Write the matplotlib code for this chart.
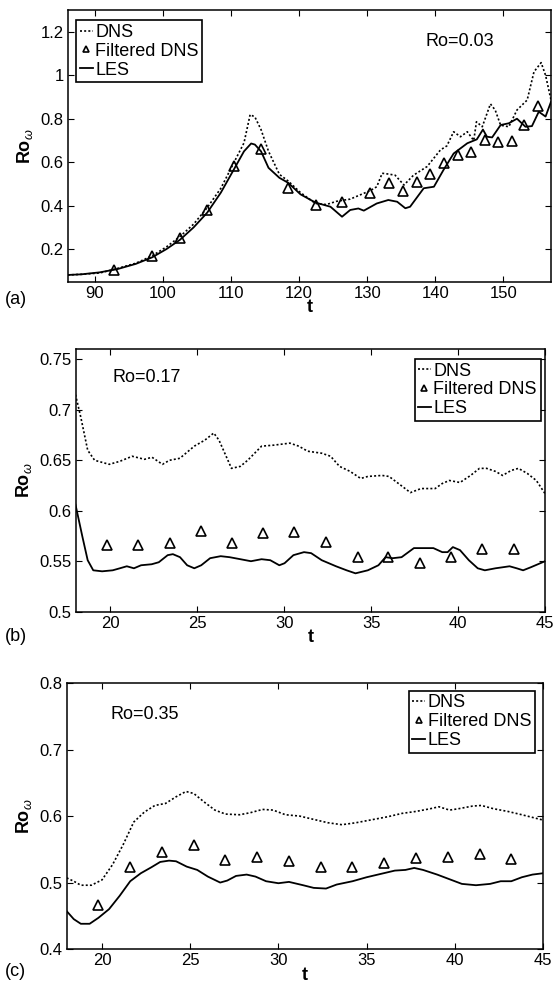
import matplotlib
matplotlib.use("Agg")
import matplotlib.pyplot as plt
import numpy as np
from matplotlib.ticker import FuncFormatter

plt.rcParams['font.family'] = ['Liberation Sans', 'DejaVu Sans']
plt.rcParams['mathtext.fontset'] = 'custom'
plt.rcParams['mathtext.rm'] = 'Liberation Sans'
plt.rcParams['mathtext.it'] = 'Liberation Sans:italic'

# ---- panel (a): Ro = 0.03 ----
a_dns_t = [86.0, 88.0, 90.7, 93.3, 96.0, 98.4, 100.5, 102.5, 104.5, 106.5, 108.5, 110.4,
           111.9, 112.8, 113.5, 114.4, 115.5, 117.1, 118.4, 120.2, 122.4, 124.0, 125.5,
           127.5, 129.0, 130.5, 131.4, 132.2, 133.2, 134.1, 135.4, 136.8, 138.8, 140.75,
           141.7, 142.7, 143.7, 144.7, 145.65, 146.05, 146.9, 148.1, 148.8, 149.6, 150.8,
           152.0, 153.5, 154.5, 155.55, 156.2, 157.0]
a_dns_v = [0.081, 0.084, 0.090, 0.111, 0.135, 0.169, 0.21, 0.258, 0.315, 0.391, 0.48, 0.597,
           0.689, 0.819, 0.808, 0.750, 0.650, 0.544, 0.513, 0.46, 0.41, 0.405, 0.42,
           0.43, 0.45, 0.47, 0.487, 0.549, 0.545, 0.54, 0.495, 0.54, 0.58, 0.656,
           0.675, 0.74, 0.717, 0.74, 0.70, 0.786, 0.763, 0.868, 0.84, 0.77, 0.763,
           0.84, 0.886, 1.016, 1.058, 1.0, 0.886]
a_les_t = [86.0, 88.0, 90.7, 93.3, 96.0, 98.4, 100.5, 102.5, 104.5, 106.5, 108.5, 110.4,
           111.9, 112.95, 113.5, 114.4, 115.5, 117.1, 118.4, 120.2, 122.4, 124.6, 126.3,
           127.5, 128.7, 129.5, 131.4, 133.1, 134.4, 135.6, 136.3, 138.3, 139.8, 141.2,
           142.7, 144.7, 146.1, 147.0, 147.6, 148.35, 149.6, 150.8, 152.0, 153.25, 154.2,
           155.2, 156.2, 157.0]
a_les_v = [0.081, 0.084, 0.093, 0.108, 0.132, 0.162, 0.20, 0.243, 0.30, 0.368, 0.46, 0.566,
           0.650, 0.686, 0.681, 0.650, 0.574, 0.528, 0.505, 0.452, 0.414, 0.395, 0.349,
           0.38, 0.387, 0.377, 0.41, 0.426, 0.418, 0.388, 0.395, 0.48, 0.487, 0.564,
           0.64, 0.687, 0.705, 0.75, 0.717, 0.714, 0.771, 0.779, 0.80, 0.763, 0.766,
           0.832, 0.81, 0.878]
a_fil_t = [92.84, 98.44, 102.48, 106.52, 110.36, 114.35, 118.39, 122.43, 126.32, 130.41,
           133.26, 135.23, 137.30, 139.27, 141.34, 143.31, 145.28, 147.25, 149.22, 151.29,
           153.0, 155.13]
a_fil_v = [0.105, 0.166, 0.249, 0.380, 0.582, 0.661, 0.481, 0.401, 0.417, 0.456,
           0.505, 0.466, 0.508, 0.545, 0.597, 0.631, 0.649, 0.701, 0.692, 0.698,
           0.77, 0.860]

# ---- panel (b): Ro = 0.17 ----
b_dns_t = [18.0, 18.3, 18.7, 19.1, 19.94, 20.55, 21.26, 21.97, 22.4, 23.0, 23.4, 24.0, 24.83,
           25.44, 25.95, 26.25, 26.97, 27.48, 27.9, 28.7, 29.4, 30.33, 30.84, 31.35, 32.16,
           32.67, 33.18, 33.79, 34.4, 34.81, 35.63, 36.03, 36.65, 37.26, 37.87, 38.68, 39.09,
           39.5, 40.11, 40.72, 41.23, 41.64, 42.15, 42.56, 43.06, 43.47, 43.98, 44.5, 45.0]
b_dns_v = [0.715, 0.693, 0.66, 0.65, 0.646, 0.649, 0.654, 0.651, 0.653, 0.646, 0.650, 0.652, 0.664,
           0.670, 0.677, 0.670, 0.642, 0.644, 0.650, 0.664, 0.665, 0.667, 0.664, 0.659, 0.657,
           0.654, 0.644, 0.639, 0.632, 0.634, 0.635, 0.634, 0.626, 0.618, 0.622, 0.622, 0.627,
           0.630, 0.628, 0.635, 0.642, 0.642, 0.639, 0.635, 0.640, 0.642, 0.637, 0.630, 0.617]
b_les_t = [18.0, 18.4, 18.7, 19.02, 19.53, 20.14, 20.55, 20.95, 21.36, 21.77, 22.38, 22.79, 23.3,
           23.6, 24.01, 24.42, 24.83, 25.23, 25.74, 26.35, 26.86, 27.48, 28.09, 28.7, 29.2,
           29.72, 30.02, 30.53, 31.14, 31.55, 32.16, 32.98, 33.59, 34.1, 34.81, 35.42, 35.83,
           36.24, 36.75, 37.46, 38.07, 38.58, 39.09, 39.4, 39.7, 40.11, 40.62, 41.13, 41.54,
           42.15, 42.56, 42.96, 43.37, 43.74, 44.18, 45.0]
b_les_v = [0.606, 0.574, 0.551, 0.541, 0.540, 0.541, 0.543, 0.545, 0.543, 0.546, 0.547, 0.549, 0.556,
           0.557, 0.554, 0.546, 0.543, 0.546, 0.553, 0.555, 0.554, 0.552, 0.550, 0.552, 0.551,
           0.546, 0.548, 0.556, 0.559, 0.558, 0.551, 0.545, 0.541, 0.538, 0.541, 0.546, 0.554,
           0.553, 0.554, 0.563, 0.563, 0.563, 0.559, 0.559, 0.564, 0.561, 0.551, 0.543, 0.541,
           0.543, 0.544, 0.545, 0.543, 0.541, 0.544, 0.550]
b_fil_t = [19.83, 21.61, 23.44, 25.19, 27.0, 28.8, 30.59, 32.41, 34.24, 35.99, 37.79, 39.58,
           41.37, 43.21]
b_fil_v = [0.566, 0.566, 0.568, 0.580, 0.568, 0.578, 0.579, 0.569, 0.554, 0.554, 0.548, 0.554,
           0.562, 0.562]

# ---- panel (c): Ro = 0.35 ----
c_dns_t = [18.0, 18.4, 18.8, 19.4, 20.0, 20.6, 21.2, 21.8, 22.4, 23.0, 23.6, 24.2, 24.76, 25.2,
           25.8, 26.4, 27.0, 27.8, 28.4, 29.1, 29.7, 30.4, 31.2, 32.0, 32.8, 33.6, 34.4, 35.2,
           36.2, 37.0, 37.8, 38.6, 39.1, 39.7, 40.2, 41.0, 41.5, 42.2, 43.0, 43.8, 45.0]
c_dns_v = [0.507, 0.502, 0.496, 0.496, 0.504, 0.527, 0.557, 0.591, 0.606, 0.616, 0.619, 0.629,
           0.637, 0.634, 0.621, 0.609, 0.603, 0.602, 0.605, 0.610, 0.609, 0.602, 0.600, 0.595,
           0.590, 0.587, 0.590, 0.594, 0.599, 0.604, 0.607, 0.611, 0.614, 0.609, 0.611, 0.615,
           0.616, 0.611, 0.607, 0.602, 0.594]
c_les_t = [18.0, 18.4, 18.8, 19.3, 19.8, 20.4, 21.0, 21.6, 22.2, 22.8, 23.3, 23.8, 24.2, 24.8,
           25.4, 26.0, 26.7, 27.1, 27.6, 28.2, 28.7, 29.3, 30.0, 30.6, 31.4, 32.0, 32.7, 33.3,
           34.2, 35.0, 35.8, 36.6, 37.2, 37.7, 38.2, 39.0, 39.8, 40.4, 41.2, 42.0, 42.6, 43.2,
           43.8, 44.4, 45.0]
c_les_v = [0.457, 0.445, 0.438, 0.438, 0.447, 0.46, 0.480, 0.502, 0.514, 0.523, 0.531, 0.533,
           0.532, 0.524, 0.519, 0.509, 0.500, 0.503, 0.510, 0.512, 0.509, 0.502, 0.499, 0.501,
           0.496, 0.492, 0.491, 0.497, 0.502, 0.508, 0.513, 0.518, 0.519, 0.522, 0.519, 0.512,
           0.504, 0.498, 0.496, 0.498, 0.502, 0.502, 0.508, 0.512, 0.514]
c_fil_t = [19.8, 21.6, 23.4, 25.2, 27.0, 28.8, 30.6, 32.4, 34.2, 36.0, 37.8, 39.6, 41.4, 43.2]
c_fil_v = [0.467, 0.523, 0.546, 0.556, 0.534, 0.538, 0.532, 0.524, 0.524, 0.529, 0.537, 0.539,
           0.543, 0.536]

panels = [
    dict(rect=[0.1222, 0.7140, 0.8724, 0.2758], dns=(a_dns_t, a_dns_v), les=(a_les_t, a_les_v),
         fil=(a_fil_t, a_fil_v), xlim=(86, 157), ylim=(0.05, 1.3), xticks=range(90, 151, 10),
         yticks=[0.2, 0.4, 0.6, 0.8, 1.0, 1.2], leg=(0.018, 0.962), ro="Ro=0.03",
         ro_pos=(0.74, 0.884), tag="(a)", tag_y=0.696),
    dict(rect=[0.1363, 0.3790, 0.8475, 0.2664], dns=(b_dns_t, b_dns_v), les=(b_les_t, b_les_v),
         fil=(b_fil_t, b_fil_v), xlim=(18, 45), ylim=(0.5, 0.76), xticks=range(20, 46, 5),
         yticks=[0.5, 0.55, 0.6, 0.65, 0.7, 0.75], leg=(0.722, 0.963), ro="Ro=0.17",
         ro_pos=(0.079, 0.893), tag="(b)", tag_y=0.354),
    dict(rect=[0.1204, 0.0365, 0.8598, 0.2700], dns=(c_dns_t, c_dns_v), les=(c_les_t, c_les_v),
         fil=(c_fil_t, c_fil_v), xlim=(18, 45), ylim=(0.4, 0.8), xticks=range(20, 46, 5),
         yticks=[0.4, 0.5, 0.6, 0.7, 0.8], leg=(0.718, 0.971), ro="Ro=0.35",
         ro_pos=(0.0926, 0.882), tag="(c)", tag_y=0.014),
]

fig = plt.figure(figsize=(5.54, 9.85), dpi=100)

for p in panels:
    ax = fig.add_axes(p["rect"])
    ax.plot(*p["dns"], color='k', linestyle=(0, (1.2, 1.3)), linewidth=1.2, label="DNS")
    ax.plot(*p["fil"], linestyle='none', marker='^', markersize=7, markerfacecolor='none',
            markeredgecolor='k', markeredgewidth=1.2, label="Filtered DNS")
    ax.plot(*p["les"], color='k', linestyle='-', linewidth=1.3, label="LES")
    ax.set_xlim(*p["xlim"])
    ax.set_ylim(*p["ylim"])
    ax.set_xticks(list(p["xticks"]))
    ax.set_yticks(p["yticks"])
    ax.yaxis.set_major_formatter(FuncFormatter(lambda v, pos: ('%g' % round(v, 3))))
    ax.tick_params(direction='in', top=True, right=True, length=4, width=0.8, labelsize=12,
                   pad=3)
    for s in ax.spines.values():
        s.set_linewidth(1.1)
    ax.set_xlabel("t", fontsize=13, fontweight='bold', labelpad=-1)
    ax.set_ylabel(r"Ro$_{\omega}$", fontsize=13, fontweight='bold', labelpad=4)
    leg = ax.legend(loc='upper left', bbox_to_anchor=p["leg"], borderaxespad=0,
                    fontsize=13, handlelength=0.7, handletextpad=0.15, labelspacing=0.1,
                    borderpad=0.2, fancybox=False, framealpha=1, markerscale=0.7,
                    numpoints=1)
    leg.get_frame().set_edgecolor('k')
    leg.get_frame().set_linewidth(1.2)
    ax.text(p["ro_pos"][0], p["ro_pos"][1], p["ro"], transform=ax.transAxes, fontsize=13,
            va='center', ha='left')
    fig.text(0.009, p["tag_y"], p["tag"], fontsize=13, va='center', ha='left')

fig.savefig("out.png", dpi=100)
